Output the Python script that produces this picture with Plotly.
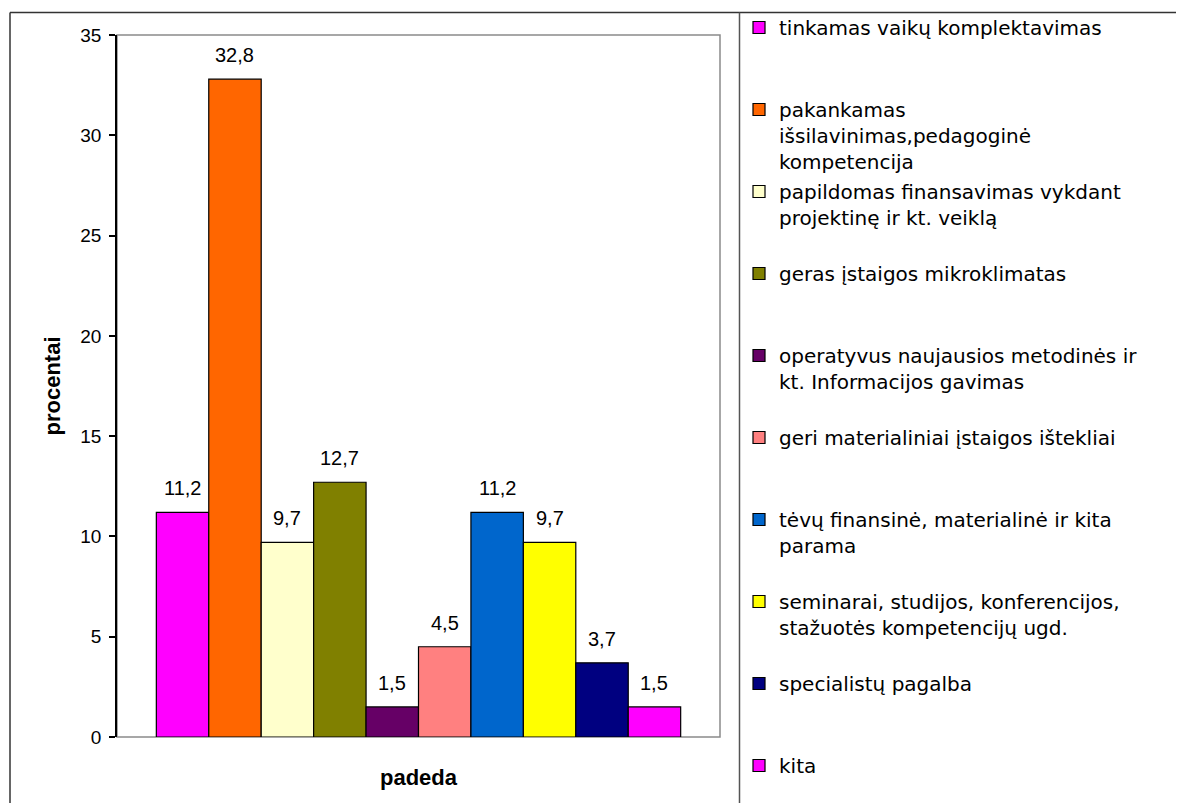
import plotly.graph_objects as go

# ---------------- data ----------------
legend_lines = [
    ["tinkamas vaikų komplektavimas"],
    ["pakankamas", "išsilavinimas,pedagoginė", "kompetencija"],
    ["papildomas finansavimas vykdant", "projektinę ir kt. veiklą"],
    ["geras įstaigos mikroklimatas"],
    ["operatyvus naujausios metodinės ir", "kt. Informacijos gavimas"],
    ["geri materialiniai įstaigos ištekliai"],
    ["tėvų finansinė, materialinė ir kita", "parama"],
    ["seminarai, studijos, konferencijos,", "stažuotės kompetencijų ugd."],
    ["specialistų pagalba"],
    ["kita"],
]
values = [11.2, 32.8, 9.7, 12.7, 1.5, 4.5, 11.2, 9.7, 3.7, 1.5]
colors = ["#FF00FF", "#FF6600", "#FFFFCC", "#808000", "#660066",
          "#FF8080", "#0066CC", "#FFFF00", "#000080", "#FF00FF"]
y_ticks = [0, 5, 10, 15, 20, 25, 30, 35]
x_title = "padeda"
y_title = "procentai"

# ---------------- layout geometry (pixels) ----------------
OFF = 8                      # page body margin in the browser
W, H = 1184 - OFF, 803 - OFF
L, R, T, B = 117 - OFF, 720 - OFF, 35 - OFF, 737 - OFF


def px_x(px):
    return (px - OFF - L) / (R - L)


def px_y(py):
    return (B - (py - OFF)) / (B - T)


def fmt(v):
    return f"{v:.1f}".replace(".", ",")


fig = go.Figure()
n = len(values)
for i, (lines, v, c) in enumerate(zip(legend_lines, values, colors)):
    padded = list(lines)
    if i < n - 1:
        while len(padded) < 3:
            padded.append("\u00a0")
    fig.add_trace(go.Bar(
        x=[i], y=[v], width=1,
        name="<br>".join(padded),
        legendgroup=f"g{i}",
        marker=dict(color=c, line=dict(color="black", width=1.2)),
        hoverinfo="skip",
    ))
    fig.add_annotation(
        x=i, y=v, text=fmt(v), showarrow=False, yanchor="bottom", yshift=11,
        font=dict(family="Liberation Sans, Arial", size=20, color="black"),
    )

shapes = [
    # plot area frame
    dict(type="rect", xref="paper", yref="paper", x0=0, x1=1, y0=0, y1=1,
         line=dict(color="#8a8a8a", width=1.5), layer="below"),
    # outer chart border (top and left)
    dict(type="line", xref="paper", yref="paper", x0=px_x(10), x1=px_x(1190),
         y0=px_y(12.5), y1=px_y(12.5), line=dict(color="#333333", width=1.5)),
    dict(type="line", xref="paper", yref="paper", x0=px_x(10), x1=px_x(10),
         y0=px_y(12.5), y1=px_y(810), line=dict(color="#333333", width=1.5)),
    # legend separator
    dict(type="line", xref="paper", yref="paper", x0=px_x(739.5), x1=px_x(739.5),
         y0=px_y(12.5), y1=px_y(810), line=dict(color="#555555", width=1.5)),
]

fig.update_layout(
    width=W, height=H,
    margin=dict(l=L, r=W - R, t=T, b=H - B, pad=0),
    paper_bgcolor="white", plot_bgcolor="white",
    barmode="overlay",
    showlegend=True,
    shapes=shapes,
    font=dict(family="Liberation Sans, Arial", size=19, color="black"),
    legend=dict(
        x=(739 - OFF) / W, xref="container", xanchor="left",
        y=1 - (7.5 - OFF) / H, yref="container", yanchor="top",
        valign="top", traceorder="grouped", tracegroupgap=1,
        maxheight=2000,
        font=dict(family="DejaVu Sans", size=20, color="black"),
        bgcolor="rgba(0,0,0,0)", borderwidth=0,
    ),
    xaxis=dict(
        range=[-1.25, n - 1 + 1.25], showticklabels=False, ticks="",
        showgrid=False, zeroline=False, showline=False,
        title=dict(text=x_title, standoff=32,
                   font=dict(family="Liberation Sans, Arial", size=22, weight="bold")),
    ),
    yaxis=dict(
        range=[0, 35], tickvals=y_ticks, ticks="outside", ticklen=6,
        tickwidth=1.5, tickcolor="black", showline=True, linecolor="black",
        linewidth=1.5, showgrid=False, zeroline=False,
        tickfont=dict(family="Liberation Sans, Arial", size=19),
        ticklabelstandoff=4,
        title=dict(text=y_title, standoff=14,
                   font=dict(family="Liberation Sans, Arial", size=22, weight="bold")),
    ),
)

fig.write_html("out.html")
